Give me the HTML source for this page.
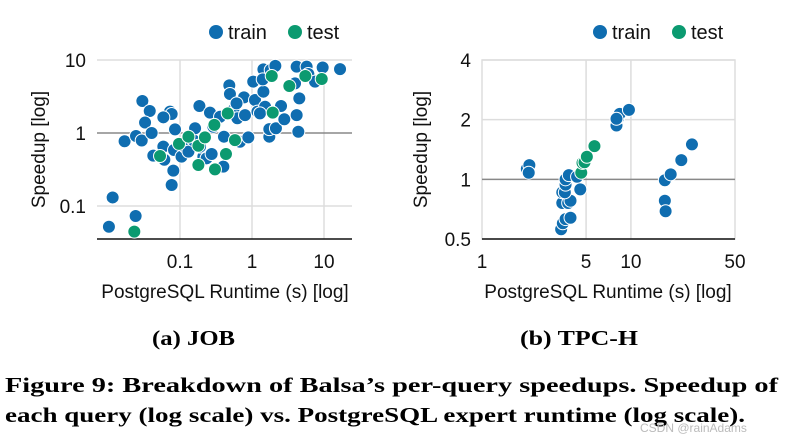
<!DOCTYPE html>
<html><head><meta charset="utf-8"><style>
html,body{margin:0;padding:0;background:#fff;}
svg{display:block;}
text{font-family:"Liberation Sans",sans-serif;}
.cap{font-family:"Liberation Serif",serif;font-weight:bold;}
</style></head><body>
<svg id="fig" width="786" height="440" viewBox="0 0 786 440" xmlns="http://www.w3.org/2000/svg">
<g id="cA"></g>
<g id="cB"></g>
<text class="cap" x="152" y="345" font-size="21" textLength="83" lengthAdjust="spacingAndGlyphs">(a) JOB</text>
<text class="cap" x="520" y="345" font-size="21" textLength="118" lengthAdjust="spacingAndGlyphs">(b) TPC-H</text>
<text class="cap" x="5" y="392" font-size="21" textLength="773" lengthAdjust="spacingAndGlyphs">Figure 9: Breakdown of Balsa’s per-query speedups. Speedup of</text>
<text class="cap" x="5" y="422" font-size="21" textLength="740" lengthAdjust="spacingAndGlyphs">each query (log scale) vs. PostgreSQL expert runtime (log scale).</text>
<text x="640" y="432" font-size="12" fill="#bbb">CSDN @rainAdams</text>
</svg>
<script>
const jobTrainX=[0.0103,0.0116,0.0242,0.017,0.0245,0.0294,0.030,0.038,0.0327,0.0404,0.0426,0.0606,0.0587,0.0727,0.0766,0.0587,0.0808,0.0766,0.0853,0.0826,0.105,0.117,0.131,0.153,0.162,0.186,0.211,0.234,0.261,0.275,0.290,0.360,0.408,0.484,0.494,0.551,0.626,0.681,0.889,0.774,0.80,1.04,1.10,1.19,1.44,1.44,1.41,1.52,1.82,2.11,1.74,1.74,2.15,2.53,2.81,4.17,4.17,4.4,4.54,3.96,5.74,6.06,7.5,9.58,16.7,1.29,0.40,0.19,0.61];
const jobTrainY=[0.052,0.131,0.073,0.77,0.91,0.79,2.74,2.0,1.39,1.0,0.49,0.43,0.65,1.96,1.82,1.64,0.305,0.194,1.12,0.585,0.474,0.65,0.555,0.80,1.16,2.34,0.474,0.45,1.90,0.515,1.22,1.67,0.89,4.5,3.42,2.07,1.59,0.76,0.87,3.08,1.76,5.05,2.83,1.96,7.45,3.68,5.43,2.29,7.3,8.3,0.89,1.13,1.16,2.34,1.54,8.1,1.76,1.04,2.98,4.79,8.1,6.43,5.05,7.9,7.5,1.86,0.346,0.65,2.55];
const jobTestX=[0.0232,0.0528,0.0968,0.131,0.18,0.18,0.222,0.306,0.30,0.435,0.46,0.58,1.88,1.94,3.30,5.5,9.3];
const jobTestY=[0.0445,0.484,0.71,0.89,0.67,0.365,0.87,0.318,1.29,0.515,1.86,0.80,6.04,1.90,4.40,6.04,5.5];
const jobXTicks=[0.1,1,10];
const jobXTickLabels=["0.1","1","10"];
const jobYTicks=[10,1,0.1];
const jobYTickLabels=["10","1","0.1"];
const tpchTrainX=[2.0,2.08,2.06,3.40,3.49,3.64,3.93,3.46,3.79,3.93,3.46,3.6,3.64,3.64,3.83,4.35,4.57,8.0,8.2,8.41,8.0,9.7,16.9,18.5,16.9,17.1,21.8,25.7];
const tpchTrainY=[1.13,1.18,1.08,0.56,0.60,0.63,0.64,0.76,0.76,0.78,0.86,0.86,0.94,1.0,1.05,1.03,0.89,1.87,2.04,2.14,2.02,2.24,0.99,1.06,0.78,0.69,1.25,1.50];
const tpchTestX=[4.64,4.73,4.88,5.06,5.69];
const tpchTestY=[1.08,1.21,1.22,1.30,1.47];
const tpchXTicks=[1,5,10,50];
const tpchXTickLabels=["1","5","10","50"];
const tpchYTicks=[4,2,1,0.5];
const tpchYTickLabels=["4","2","1","0.5"];

const NS="http://www.w3.org/2000/svg";
const BLUE="#0f6db0", GREEN="#0b9a70";
function mk(p,tag,a){const e=document.createElementNS(NS,tag);for(const k in a)e.setAttribute(k,a[k]);p.appendChild(e);return e;}
function logScale(d0,p0,d1,p1){return v=>p0+(Math.log10(v)-Math.log10(d0))/(Math.log10(d1)-Math.log10(d0))*(p1-p0);}

function draw(g,o){
  const sx=o.sx, sy=o.sy;
  if(o.box){const r=mk(g,'rect',{x:o.L,y:o.T,width:o.R-o.L,height:o.B-o.T,fill:'none',stroke:'#ddd','stroke-width':1.5});
    }
  o.xt.forEach((v,i)=>{const x=sx(v);
    if(x>o.L+1&&x<o.R-1){const l=mk(g,'line',{x1:x,x2:x,y1:o.T,y2:o.B,stroke:'#ddd','stroke-width':1.5});
      }
    const t=mk(g,'text',{x:x,y:o.B+29,'font-size':19,'text-anchor':'middle',fill:'#111'});t.textContent=o.xl[i];
    });
  o.yt.forEach((v,i)=>{const y=sy(v);
    if(v!==1&&y<o.B-1){const l=mk(g,'line',{x1:o.L,x2:o.R,y1:y,y2:y,stroke:'#ddd','stroke-width':1.5});
      }
    const t=mk(g,'text',{x:o.L-11,y:y+7,'font-size':19,'text-anchor':'end',fill:'#111'});t.textContent=o.yl[i];
    });
  const one=mk(g,'line',{x1:o.L,x2:o.R,y1:sy(1),y2:sy(1),stroke:'#888','stroke-width':1.5});
  
  const ax=mk(g,'line',{x1:o.L,x2:o.R,y1:o.B,y2:o.B,stroke:'#111','stroke-width':1.5});
  
  [[o.trX,o.trY,BLUE,'train-point'],[o.teX,o.teY,GREEN,'test-point']].forEach(s=>{
    s[0].forEach((xv,i)=>{const c=mk(g,'circle',{cx:sx(xv),cy:sy(s[1][i]),r:6.5,fill:s[2],stroke:'#fff','stroke-width':1});
      });});
  const yt=mk(g,'text',{x:0,y:0,'font-size':19,'text-anchor':'middle',fill:'#111',transform:`translate(${o.ytx},${(o.T+o.B)/2}) rotate(-90)`});
  yt.textContent='Speedup [log]';
  const xt=mk(g,'text',{x:o.xtx,y:298,'font-size':19,'text-anchor':'middle',fill:'#111'});
  xt.textContent='PostgreSQL Runtime (s) [log]';
  [[o.lg,BLUE,'train'],[o.lg+79,GREEN,'test']].forEach(e=>{
    const c=mk(g,'circle',{cx:e[0],cy:32,r:7,fill:e[1]});
    const t=mk(g,'text',{x:e[0]+12,y:39,'font-size':20,fill:'#111'});t.textContent=e[2];
    });
}
draw(document.getElementById('cA'),{L:97,R:352,T:60,B:239,
  sx:logScale(0.1,180,10,324),sy:logScale(10,60,0.1,206),box:false,
  xt:jobXTicks,xl:jobXTickLabels,yt:jobYTicks,yl:jobYTickLabels,
  trX:jobTrainX,trY:jobTrainY,teX:jobTestX,teY:jobTestY,ytx:45,xtx:225,lg:216});
draw(document.getElementById('cB'),{L:482,R:735,T:60,B:239,
  sx:logScale(1,482,50,735),sy:logScale(4,60,0.5,239),box:true,
  xt:tpchXTicks,xl:tpchXTickLabels,yt:tpchYTicks,yl:tpchYTickLabels,
  trX:tpchTrainX,trY:tpchTrainY,teX:tpchTestX,teY:tpchTestY,ytx:427,xtx:608,lg:600});
</script>
</body></html>
